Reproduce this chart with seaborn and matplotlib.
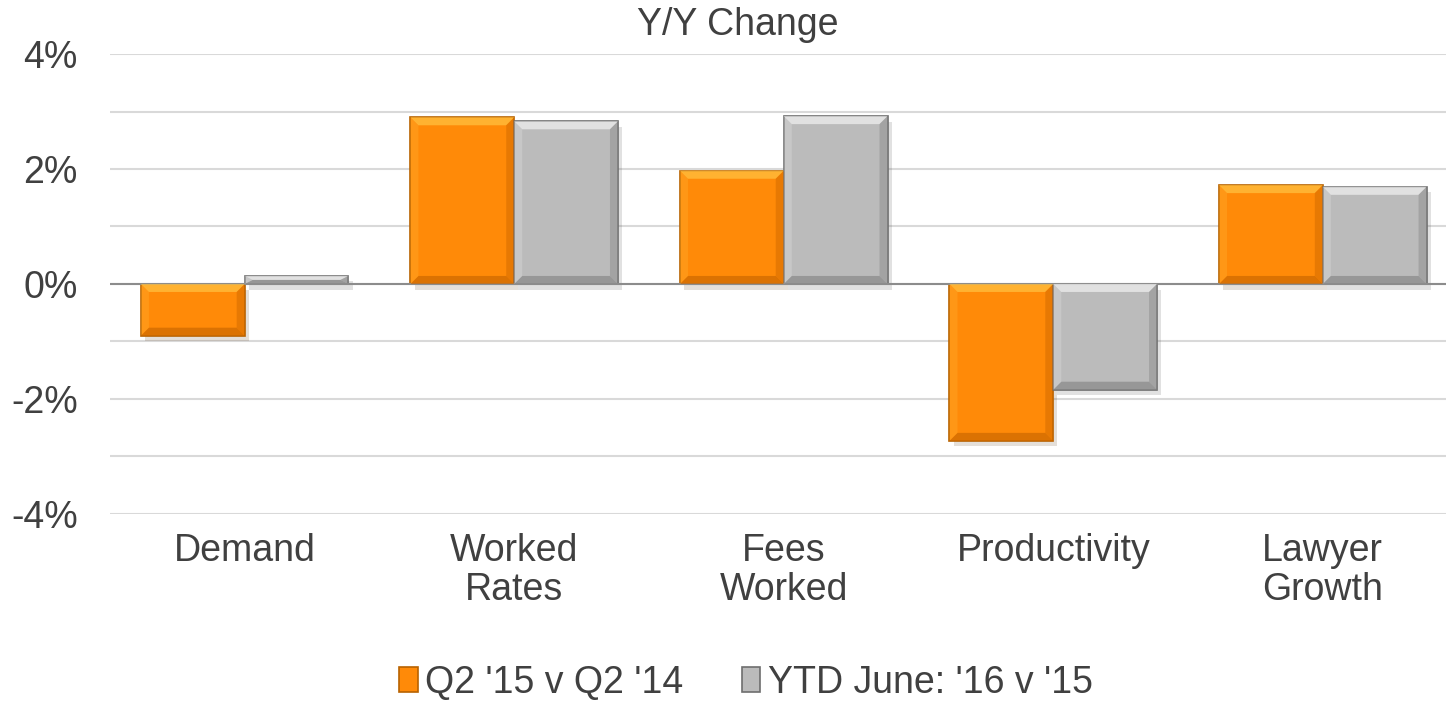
import pandas as pd
import matplotlib.pyplot as plt
import matplotlib.patheffects as pe
from matplotlib.patches import Polygon
import seaborn as sns

categories = ['Demand', 'Worked\nRates', 'Fees\nWorked', 'Productivity', 'Lawyer\nGrowth']
series = ["Q2 '15 v Q2 '14", "YTD June: '16 v '15"]
q2_values = [-0.90, 2.90, 1.97, -2.73, 1.72]
ytd_values = [0.14, 2.83, 2.92, -1.84, 1.69]
colors = ['#FF8A08', '#BBBBBB']
edges = ['#B86200', '#6E6E6E']
bevel_light = ['#FFC040', '#EEEEEE']
bevel_dark = ['#D06A00', '#8C8C8C']

df = pd.DataFrame({
    'category': categories * 2,
    'series': [series[0]] * 5 + [series[1]] * 5,
    'value': q2_values + ytd_values,
})

sns.set_style('white')
plt.rcParams['font.family'] = ['Liberation Sans', 'DejaVu Sans']

W, H = 14.46, 7.02
fig = plt.figure(figsize=(W, H), dpi=100)
ax_pos = [0.076, 0.268, 0.932, 0.655]
ax = fig.add_axes(ax_pos)

sns.barplot(data=df, x='category', y='value', hue='series', order=categories,
            hue_order=series, palette=colors, saturation=1, width=0.77, gap=0,
            ax=ax, linewidth=1.2, errorbar=None, legend=True)

ax.set_ylim(-4, 4)
ax.set_xlim(-0.5, 4.5)

# bevel size in data units (~8 px)
px_x = (ax_pos[2] * W * 100) / 5.0
px_y = (ax_pos[3] * H * 100) / 8.0
bx, by = 8 / px_x, 8 / px_y

for i, container in enumerate(ax.containers):
    for bar in container:
        bar.set_edgecolor(edges[i])
        bar.set_path_effects([pe.SimplePatchShadow(offset=(3, -4), alpha=0.15),
                              pe.Normal()])
        x0, w = bar.get_x(), bar.get_width()
        y0, h = bar.get_y(), bar.get_height()
        x1 = x0 + w
        yb, yt = min(y0, y0 + h), max(y0, y0 + h)
        byy = min(by, (yt - yb) / 2)
        bxx = min(bx, w / 2)
        faces = [
            ([(x0, yt), (x1, yt), (x1 - bxx, yt - byy), (x0 + bxx, yt - byy)], bevel_light[i], 0.75),
            ([(x0, yb), (x1, yb), (x1 - bxx, yb + byy), (x0 + bxx, yb + byy)], bevel_dark[i], 0.75),
            ([(x0, yb), (x0, yt), (x0 + bxx, yt - byy), (x0 + bxx, yb + byy)], bevel_light[i], 0.25),
            ([(x1, yb), (x1, yt), (x1 - bxx, yt - byy), (x1 - bxx, yb + byy)], bevel_dark[i], 0.5),
        ]
        for pts, c, a in faces:
            ax.add_patch(Polygon(pts, closed=True, facecolor=c, edgecolor='none',
                                 alpha=a, zorder=bar.get_zorder() + 0.1))

ax.set_yticks([-4, -2, 0, 2, 4])
ax.set_yticklabels(['-4%', '-2%', '0%', '2%', '4%'])
ax.set_yticks([-3, -1, 1, 3], minor=True)
ax.grid(axis='y', which='both', color='#D9D9D9', linewidth=1.5, zorder=0)
ax.set_axisbelow(True)
ax.axhline(0, color='#8C8C8C', linewidth=1.5, zorder=1)
for s in ax.spines.values():
    s.set_visible(False)
ax.tick_params(axis='y', labelsize=27, length=0, pad=23, labelcolor='#404040')
ax.tick_params(axis='x', labelsize=27, length=0, pad=14, labelcolor='#404040')
for lbl in ax.get_xticklabels():
    lbl.set_linespacing(1.1)
ax.set_xlabel('')
ax.set_ylabel('')
ax.text(0.466, 1.063, 'Y/Y Change', transform=ax.transAxes, ha='center', va='center',
        fontsize=27, color='#404040')

handles, labels = ax.get_legend_handles_labels()
for h, ec in zip(handles, edges):
    h.set_edgecolor(ec)
ax.legend(handles, labels, loc='center', bbox_to_anchor=(0.472, -0.368),
          ncol=2, frameon=False, fontsize=27, handlelength=0.5, handleheight=0.65,
          handletextpad=0.2, columnspacing=1.55, labelcolor='#404040',
          borderpad=0.1)

fig.savefig('out.png', dpi=100)
